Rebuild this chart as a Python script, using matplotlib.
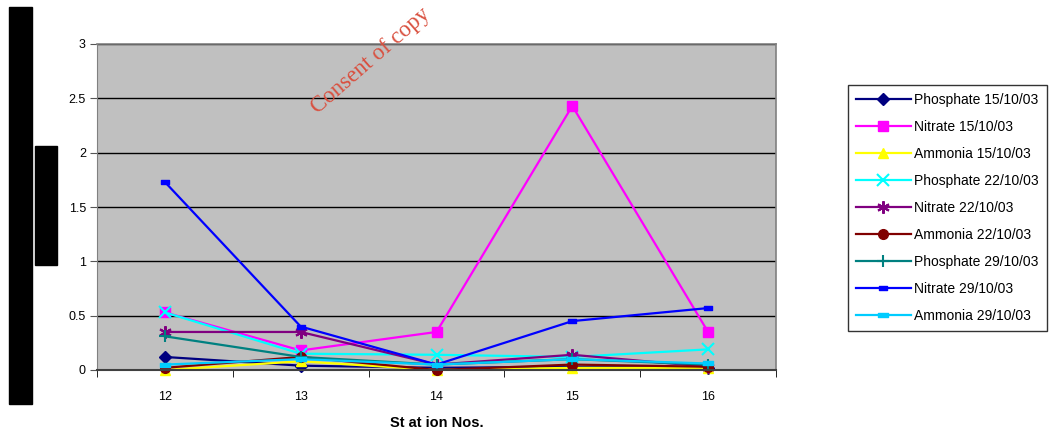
import matplotlib
matplotlib.use("Agg")
import matplotlib.pyplot as plt
from matplotlib.path import Path
from matplotlib.patches import Rectangle

plt.rcParams['font.family'] = ['Liberation Sans', 'DejaVu Sans']

stations = ['12', '13', '14', '15', '16']

phosphate_15 = [0.12, 0.04, 0.02, 0.03, 0.02]
nitrate_15 = [0.53, 0.18, 0.35, 2.43, 0.35]
ammonia_15 = [0.00, 0.08, 0.00, 0.02, 0.02]
phosphate_22 = [0.53, 0.15, 0.14, 0.12, 0.19]
nitrate_22 = [0.35, 0.35, 0.05, 0.14, 0.03]
ammonia_22 = [0.02, 0.12, 0.00, 0.05, 0.03]
phosphate_29 = [0.31, 0.12, 0.05, 0.10, 0.05]
nitrate_29 = [1.73, 0.40, 0.05, 0.45, 0.57]
ammonia_29 = [0.05, 0.10, 0.05, 0.10, 0.06]

series_labels = ['Phosphate 15/10/03', 'Nitrate 15/10/03', 'Ammonia 15/10/03',
                 'Phosphate 22/10/03', 'Nitrate 22/10/03', 'Ammonia 22/10/03',
                 'Phosphate 29/10/03', 'Nitrate 29/10/03', 'Ammonia 29/10/03']
y_ticks = [0, 0.5, 1, 1.5, 2, 2.5, 3]

bar_marker = Path([(-1, -0.45), (1, -0.45), (1, 0.45), (-1, 0.45), (-1, -0.45)],
                  [Path.MOVETO, Path.LINETO, Path.LINETO, Path.LINETO, Path.CLOSEPOLY])

styles = [
    dict(color='#000080', marker='D', ms=6),
    dict(color='#FF00FF', marker='s', ms=7),
    dict(color='#FFFF00', marker='^', ms=7),
    dict(color='#00FFFF', marker='x', ms=8, mew=1.5),
    dict(color='#800080', marker=(6, 2, 0), ms=9, mew=1.5),
    dict(color='#800000', marker='o', ms=7),
    dict(color='#008080', marker='+', ms=9, mew=1.5),
    dict(color='#0000FF', marker=bar_marker, ms=6),
    dict(color='#00CCFF', marker=bar_marker, ms=7),
]
series = [phosphate_15, nitrate_15, ammonia_15, phosphate_22, nitrate_22,
          ammonia_22, phosphate_29, nitrate_29, ammonia_29]

W, H = 1057, 434
fig = plt.figure(figsize=(W / 100, H / 100), dpi=100)
ax = fig.add_axes([97 / W, 1 - 370 / H, (776 - 97) / W, (370 - 44) / H])
ax.set_facecolor('#C0C0C0')

x = list(range(len(stations)))
for vals, lab, st in zip(series, series_labels, styles):
    ax.plot(x, vals, linewidth=1.6, label=lab, clip_on=False, **st)

ax.set_xlim(-0.5, len(stations) - 0.5)
ax.set_ylim(0, 3)
ax.set_yticks(y_ticks)
ax.set_yticklabels(['0', '0.5', '1', '1.5', '2', '2.5', '3'])
ax.yaxis.grid(True, color='black', linewidth=1.0)
ax.set_axisbelow(True)
ax.set_xticks(x)
ax.set_xticklabels(stations)
ax.set_xticks([i + 0.5 for i in range(-1, len(stations))], minor=True)
ax.tick_params(axis='x', which='major', length=0, pad=15, labelsize=9)
ax.tick_params(axis='x', which='minor', length=5, color='black', direction='out')
ax.tick_params(axis='y', length=5, color='#555555', labelsize=9, pad=3)
for side in ['top', 'right']:
    ax.spines[side].set_color('#808080')
    ax.spines[side].set_linewidth(1.2)
ax.spines['left'].set_color('#808080')
ax.spines['bottom'].set_color('#404040')
ax.spines['bottom'].set_linewidth(1.5)

fig.text(437 / W, 1 - 423 / H, 'St at ion Nos.', ha='center', va='center',
         fontsize=10.5, fontweight='bold')

leg = ax.legend(loc='upper left', bbox_to_anchor=(848 / W, 1 - 85 / H),
                bbox_transform=fig.transFigure, fontsize=10, frameon=True,
                fancybox=False, edgecolor='black', labelspacing=0.93,
                handlelength=3.9, handletextpad=0.25, borderpad=0.6,
                borderaxespad=0)
leg.get_frame().set_linewidth(1.0)

# redaction blocks on the left edge
fig.add_artist(Rectangle((9 / W, 1 - 404 / H), 23 / W, 397 / H,
                         transform=fig.transFigure, color='black'))
fig.add_artist(Rectangle((35 / W, 1 - 265 / H), 22 / W, 119 / H,
                         transform=fig.transFigure, color='black'))

fig.text(318 / W, 1 - 114 / H, 'Consent of copy',
         rotation=41, rotation_mode='anchor', ha='left', va='baseline',
         color='#D9503F', fontsize=16.5, family='Liberation Serif', zorder=10)

fig.savefig('out.png', dpi=100)
